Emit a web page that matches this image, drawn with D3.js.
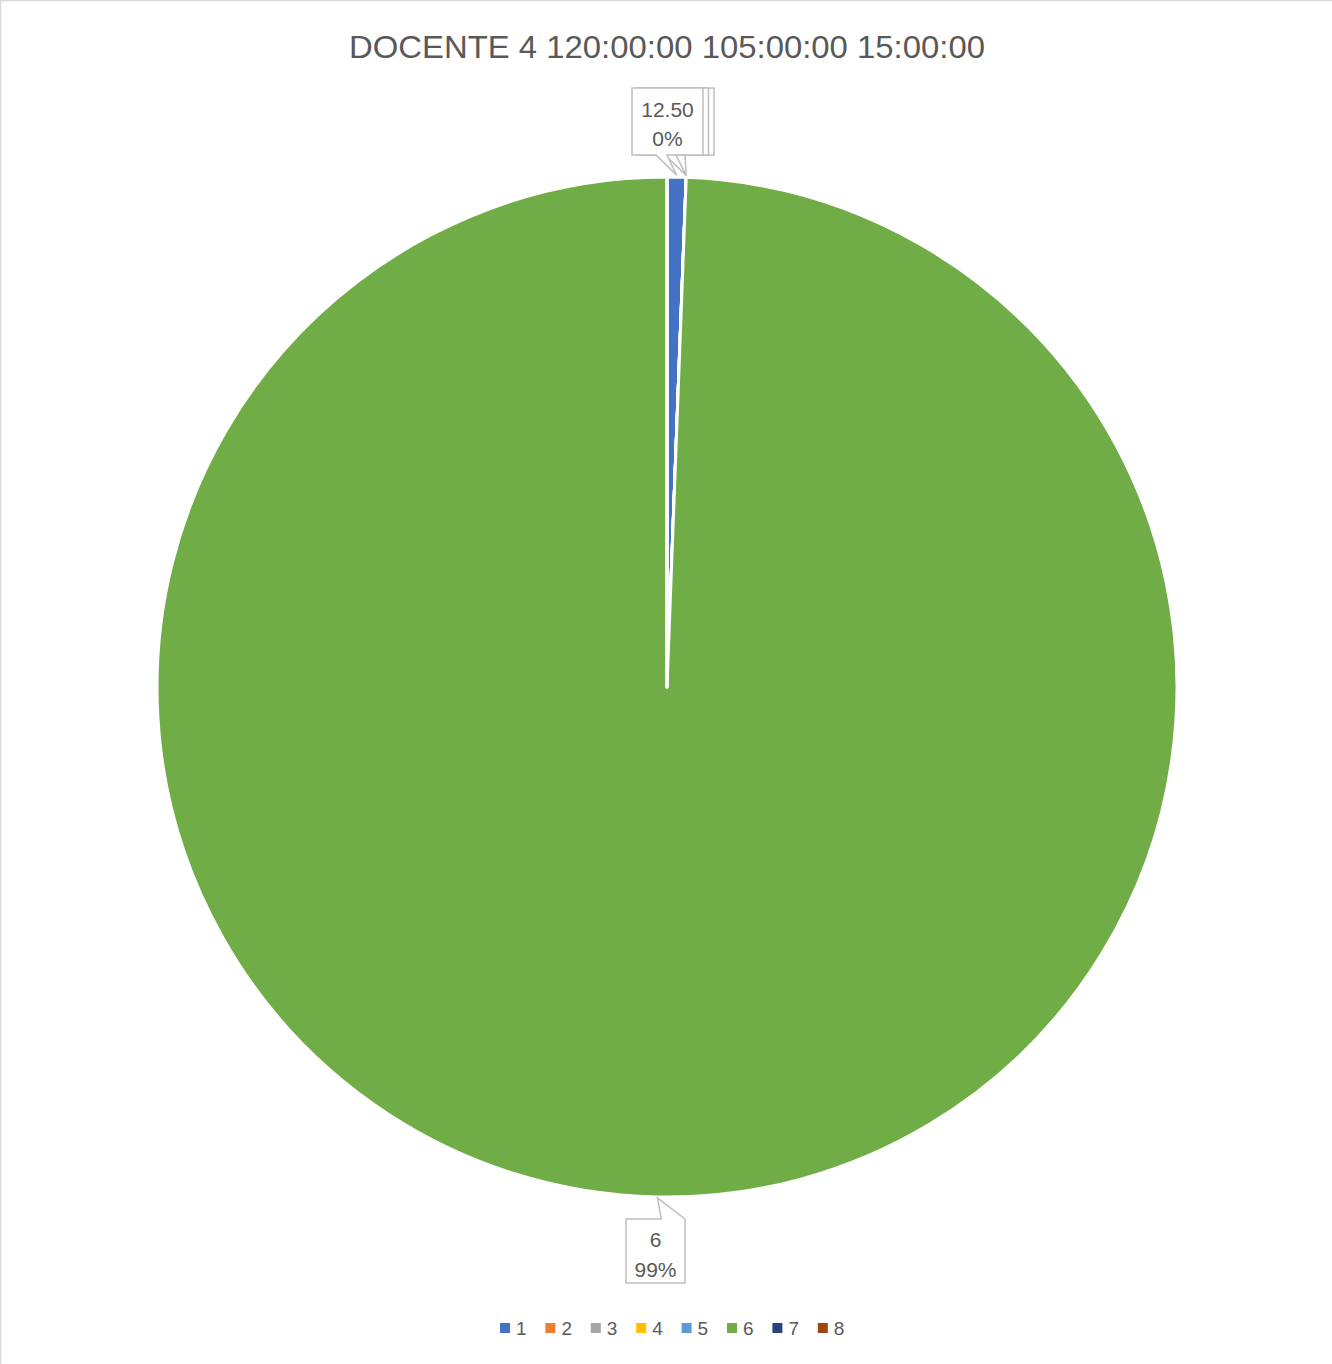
<!DOCTYPE html>
<html><head><meta charset="utf-8">
<script src="https://cdn.jsdelivr.net/npm/d3@7"></script>
<style>body{margin:0;background:#fff}svg{display:block}</style>
</head><body>
<svg id="chart" width="1332" height="1364"></svg>
<script>
const title = "DOCENTE 4 120:00:00 105:00:00 15:00:00";
const categories = ["1","2","3","4","5","6","7","8"];
const values = [0.6, 0, 0, 0, 0, 99.4, 0, 0];
const colors = ["#4472C4","#ED7D31","#A5A5A5","#FFC000","#5B9BD5","#70AD47","#264478","#9E480E"];
const labelNames = ["12.50", "", "", "", "", "6", "", ""];
const labelPcts = ["0%", "", "", "", "", "99%", "", ""];

const svg = d3.select("#chart");
const W = 1332, H = 1364;
const cx = 667, cy = 687, r = 510;
const txt = "#595959", boxStroke = "#BFBFBF";
const font = "'Liberation Sans', Arial, sans-serif";

svg.append("rect").attr("x",0.5).attr("y",0.5).attr("width",W+2).attr("height",H+2)
  .attr("fill","none").attr("stroke","#D9D9D9").attr("stroke-width",1.5);

svg.append("text").attr("x",cx).attr("y",58).attr("text-anchor","middle")
  .attr("font-family",font).attr("font-size",32).attr("fill",txt)
  .attr("textLength",636).attr("lengthAdjust","spacingAndGlyphs").text(title);

const pie = d3.pie().sort(null).value(d=>d).startAngle(0).endAngle(2*Math.PI);
const arcs = pie(values);
const arc = d3.arc().innerRadius(0).outerRadius(r);
const g = svg.append("g").attr("transform",`translate(${cx},${cy})`);
g.selectAll("path").data(arcs).enter().append("path")
  .attr("d",arc).attr("fill",(d,i)=>colors[i])
  .attr("stroke","#fff").attr("stroke-width",3).attr("stroke-linejoin","round");

function tip(a){ const m=(a.startAngle+a.endAngle)/2; return [cx + r*Math.sin(m), cy - r*Math.cos(m)]; }

// top stacked callouts (slice 1 in front, zero-value slices hidden behind it)
const topIdx = [2,1,0];
topIdx.forEach((i,k)=>{
  const a = arcs[i];
  const [tx,ty] = tip(a);
  const off = (2-k);
  const left = 632 + off*5, right = 703 + off*5.5, top = 88, bottom = 155;
  const b1 = left + 24 + off*4, b2 = left + 35 + off*4;
  const p = `M${left},${top}H${right}V${bottom}H${b2}L${tx},${ty-2}L${b1},${bottom}H${left}Z`;
  svg.append("path").attr("d",p).attr("fill","#fff").attr("stroke",boxStroke).attr("stroke-width",1.5);
  if (labelNames[i] || labelPcts[i]) {
    const mx = (left+right)/2;
    svg.append("text").attr("x",mx).attr("y",117).attr("text-anchor","middle")
      .attr("font-family",font).attr("font-size",21).attr("fill",txt).text(labelNames[i]);
    svg.append("text").attr("x",mx).attr("y",146).attr("text-anchor","middle")
      .attr("font-family",font).attr("font-size",21).attr("fill",txt).text(labelPcts[i]);
  }
});

// bottom callout for slice 6
{
  const i = 5, a = arcs[i];
  const [tx,ty] = tip(a);
  const left = 626, right = 685, top = 1219, bottom = 1283;
  const p = `M${left},${top}H${tx+4}L${tx},${ty+1}L${right},${top}V${bottom}H${left}Z`;
  svg.append("path").attr("d",p).attr("fill","#fff").attr("stroke",boxStroke).attr("stroke-width",1.5);
  const mx = (left+right)/2;
  svg.append("text").attr("x",mx).attr("y",1247).attr("text-anchor","middle")
    .attr("font-family",font).attr("font-size",21).attr("fill",txt).text(labelNames[i]);
  svg.append("text").attr("x",mx).attr("y",1277).attr("text-anchor","middle")
    .attr("font-family",font).attr("font-size",21).attr("fill",txt).text(labelPcts[i]);
}

// legend
const lg = svg.append("g");
categories.forEach((c,i)=>{
  const x = 500 + i*45.4;
  lg.append("rect").attr("x",x).attr("y",1323).attr("width",10).attr("height",10).attr("fill",colors[i]);
  lg.append("text").attr("x",x+16).attr("y",1335).attr("font-family",font).attr("font-size",19)
    .attr("fill",txt).text(c);
});
</script>
</body></html>
